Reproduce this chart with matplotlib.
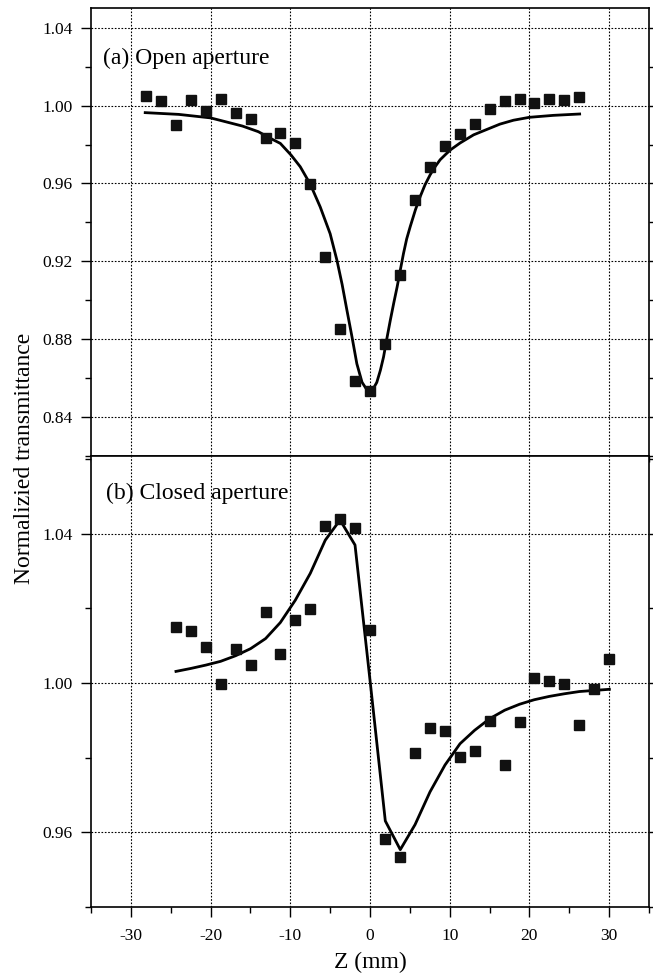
import matplotlib
matplotlib.use("Agg")
import matplotlib.pyplot as plt
from matplotlib.ticker import MultipleLocator, FormatStrFormatter

plt.rcParams['font.family'] = ['Liberation Serif', 'DejaVu Serif']
plt.rcParams['axes.unicode_minus'] = False

# ---- data: (a) open aperture ----
z_open = [-28.15, -26.27, -24.39, -22.51, -20.63, -18.74, -16.86, -14.98, -13.10, -11.25,
          -9.37, -7.49, -5.60, -3.76, -1.88, 0.04, 1.92, 3.80, 5.65, 7.48,
          9.36, 11.24, 13.12, 15.00, 16.90, 18.77, 20.60, 22.50, 24.38, 26.26]
t_open = [1.0048, 1.0024, 0.9899, 1.0029, 0.9973, 1.0033, 0.9961, 0.9932, 0.9832, 0.9858,
          0.9810, 0.9597, 0.9221, 0.8854, 0.8584, 0.8536, 0.8777, 0.9128, 0.9515, 0.9683,
          0.9794, 0.9853, 0.9906, 0.9981, 1.0023, 1.0034, 1.0012, 1.0033, 1.0029, 1.0043]

z_open_fit = [-28.2, -24.0, -20.0, -16.0, -14.0, -12.5, -11.25, -9.9, -8.75, -7.5,
              -6.25, -5.0, -4.15, -3.5, -2.9, -2.25, -1.65, -1.0, -0.5, 0.0,
              0.45, 0.85, 1.3, 1.7, 2.1, 2.55, 3.0, 3.4, 3.8, 4.2,
              4.6, 5.05, 5.7, 6.3, 6.9, 7.55, 8.2, 8.8, 9.5, 10.1,
              11.3, 13.0, 14.5, 16.3, 18.0, 20.0, 23.0, 26.3]
t_open_fit = [0.9964, 0.9955, 0.9937, 0.9895, 0.9866, 0.9832, 0.9806, 0.9746, 0.9686, 0.9597,
              0.9480, 0.9342, 0.9206, 0.9082, 0.8950, 0.8810, 0.8674, 0.8579, 0.8547, 0.8538,
              0.8549, 0.8578, 0.8640, 0.8709, 0.8800, 0.8898, 0.8990, 0.9068, 0.9155, 0.9240,
              0.9315, 0.9379, 0.9465, 0.9533, 0.9593, 0.9645, 0.9688, 0.9722, 0.9750, 0.9773,
              0.9808, 0.9850, 0.9875, 0.9905, 0.9925, 0.9940, 0.9950, 0.9957]

# ---- data: (b) closed aperture ----
z_closed = [-24.34, -22.46, -20.58, -18.74, -16.86, -14.98, -13.10, -11.25, -9.37, -7.49,
            -5.61, -3.76, -1.88, 0.04, 1.88, 3.80, 5.65, 7.53, 9.41, 11.29,
            13.12, 15.00, 16.90, 18.77, 20.60, 22.50, 24.38, 26.26, 28.14, 30.03]
t_closed = [1.0149, 1.0139, 1.0097, 0.9998, 1.0090, 1.0048, 1.0189, 1.0079, 1.0169, 1.0199,
            1.0421, 1.0440, 1.0416, 1.0143, 0.9581, 0.9533, 0.9811, 0.9880, 0.9870, 0.9801,
            0.9817, 0.9898, 0.9779, 0.9895, 1.0013, 1.0005, 0.9997, 0.9888, 0.9983, 1.0065]

z_closed_fit = [-24.34, -22.46, -20.58, -18.74, -16.86, -14.98, -13.10, -11.25, -9.37, -7.49,
                -5.61, -3.76, -1.88, 0.04, 1.92, 3.80, 5.65, 7.53, 9.41, 11.29,
                13.12, 15.00, 16.90, 18.77, 20.60, 22.50, 24.38, 26.26, 28.14, 30.03]
t_closed_fit = [1.0031, 1.0039, 1.0048, 1.0058, 1.0073, 1.0092, 1.0119, 1.0162, 1.0222, 1.0294,
                1.0383, 1.0437, 1.0370, 1.0000, 0.9630, 0.9553, 0.9620, 0.9708, 0.9780, 0.9837,
                0.9873, 0.9904, 0.9927, 0.9943, 0.9955, 0.9964, 0.9971, 0.9977, 0.9980, 0.9983]

x_major = [-30, -20, -10, 0, 10, 20, 30]

fig = plt.figure(figsize=(6.53, 9.77), dpi=100)
L, R = 91.0 / 653, 649.0 / 653
ax1 = fig.add_axes([L, 1 - 456.0 / 977, R - L, (456.0 - 8.3) / 977])
ax2 = fig.add_axes([L, 1 - 906.7 / 977, R - L, (906.7 - 455.5) / 977])

def style(ax, ylo, yhi, show_xlabels):
    ax.set_xlim(-35, 35)
    ax.set_ylim(ylo, yhi)
    ax.set_xticks(x_major)
    ax.xaxis.set_minor_locator(MultipleLocator(5))
    ax.yaxis.set_major_locator(MultipleLocator(0.04))
    ax.yaxis.set_minor_locator(MultipleLocator(0.02))
    ax.yaxis.set_major_formatter(FormatStrFormatter('%.2f'))
    ax.grid(True, which='major', linestyle=(0, (1.5, 1.5)), color='black', linewidth=0.8)
    ax.tick_params(axis='y', which='major', direction='out', length=7, width=1.0,
                   labelsize=12.5, pad=6, right=True)
    ax.tick_params(axis='y', which='minor', direction='out', length=4, width=1.0, right=True)
    ax.tick_params(axis='x', which='major', direction='out', length=7, width=1.0,
                   labelsize=12.5, pad=8, top=False)
    ax.tick_params(axis='x', which='minor', direction='out', length=4, width=1.0, top=False)
    if not show_xlabels:
        ax.tick_params(axis='x', labelbottom=False)
    for s in ax.spines.values():
        s.set_linewidth(1.2)

style(ax1, 0.82, 1.05, False)
style(ax2, 0.94, 1.061, True)
ax1.set_yticks([0.84, 0.88, 0.92, 0.96, 1.00, 1.04])
ax2.set_yticks([0.96, 1.00, 1.04])

ax1.plot(z_open_fit, t_open_fit, color='black', linewidth=2.0, zorder=3)
ax1.plot(z_open, t_open, linestyle='none', marker='s', markersize=7,
         color='#111111', zorder=4)
ax2.plot(z_closed_fit, t_closed_fit, color='black', linewidth=2.0, zorder=3)
ax2.plot(z_closed, t_closed, linestyle='none', marker='s', markersize=7,
         color='#111111', zorder=4)

ax1.text(0.022, 0.889, '(a) Open aperture', transform=ax1.transAxes,
         fontsize=17, va='center', ha='left')
ax2.text(0.027, 0.916, '(b) Closed aperture', transform=ax2.transAxes,
         fontsize=17, va='center', ha='left')

ax2.set_xlabel('Z (mm)', fontsize=17, labelpad=6)
fig.text(25.0 / 653, 1 - 458.0 / 977, 'Normalizied transmittance', rotation=90,
         fontsize=17, va='center', ha='center')

fig.savefig('out.png', dpi=100)
